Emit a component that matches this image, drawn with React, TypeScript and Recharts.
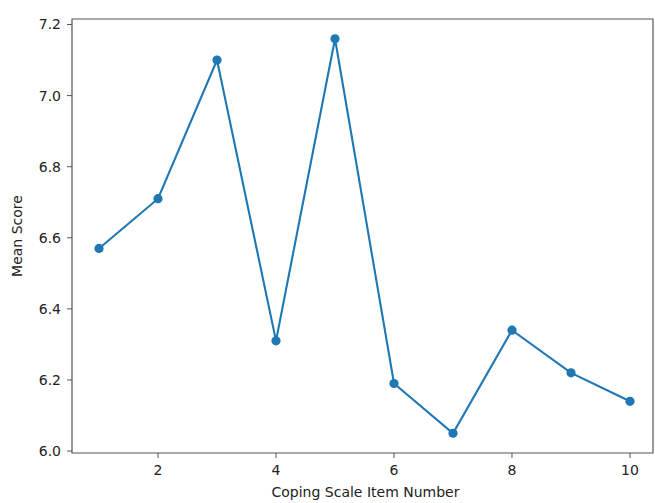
import React from "react";
import {
  LineChart,
  Line,
  XAxis,
  YAxis,
  ReferenceArea,
} from "recharts";

const items = [1, 2, 3, 4, 5, 6, 7, 8, 9, 10];
const meanScores = [6.57, 6.71, 7.1, 6.31, 7.16, 6.19, 6.05, 6.34, 6.22, 6.14];
const xTicks = [2, 4, 6, 8, 10];
const yTicks = [6.0, 6.2, 6.4, 6.6, 6.8, 7.0, 7.2];

const data = items.map((item, i) => ({ item, score: meanScores[i] }));

const X_DOMAIN: [number, number] = [0.542, 10.39];
const Y_DOMAIN: [number, number] = [5.9945, 7.2155];

const FONT = "'DejaVu Sans', sans-serif";
const AXIS = "#555";
const TEXT = "#222";
const BLUE = "#1f77b4";

export default function App() {
  return (
    <div
      style={{
        position: "absolute",
        left: 0,
        top: 0,
        width: 655,
        height: 503,
        background: "#fff",
        overflow: "hidden",
      }}
    >
      <LineChart
        width={655}
        height={503}
        data={data}
        margin={{ top: 19, right: 2, left: 12, bottom: 0 }}
      >
        <XAxis
          dataKey="item"
          type="number"
          domain={X_DOMAIN}
          allowDataOverflow
          ticks={xTicks}
          height={50}
          axisLine={false}
          tickLine={{ stroke: AXIS }}
          tickSize={5}
          tickMargin={7}
          tick={{ fill: TEXT, fontSize: 14, fontFamily: FONT }}
          label={{
            value: "Coping Scale Item Number",
            position: "insideBottom",
            offset: 6,
            dx: 3,
            fill: TEXT,
            fontSize: 14,
            fontFamily: FONT,
          }}
        />
        <YAxis
          type="number"
          domain={Y_DOMAIN}
          allowDataOverflow
          ticks={yTicks}
          width={60}
          axisLine={false}
          tickLine={{ stroke: AXIS }}
          tickSize={5}
          tickMargin={6}
          tickFormatter={(v: number) => v.toFixed(1)}
          tick={{ fill: TEXT, fontSize: 14, fontFamily: FONT }}
          label={{
            value: "Mean Score",
            angle: -90,
            position: "insideLeft",
            offset: 5,
            fill: TEXT,
            fontSize: 14,
            fontFamily: FONT,
            style: { textAnchor: "middle" },
          }}
        />
        <ReferenceArea
          x1={X_DOMAIN[0]}
          x2={X_DOMAIN[1]}
          y1={Y_DOMAIN[0]}
          y2={Y_DOMAIN[1]}
          fill="none"
          stroke={AXIS}
          strokeWidth={1.2}
        />
        <Line
          type="linear"
          dataKey="score"
          stroke={BLUE}
          strokeWidth={2.1}
          dot={{ r: 4.6, fill: BLUE, stroke: BLUE, strokeWidth: 0 }}
          activeDot={false}
          isAnimationActive={false}
        />
      </LineChart>
    </div>
  );
}
